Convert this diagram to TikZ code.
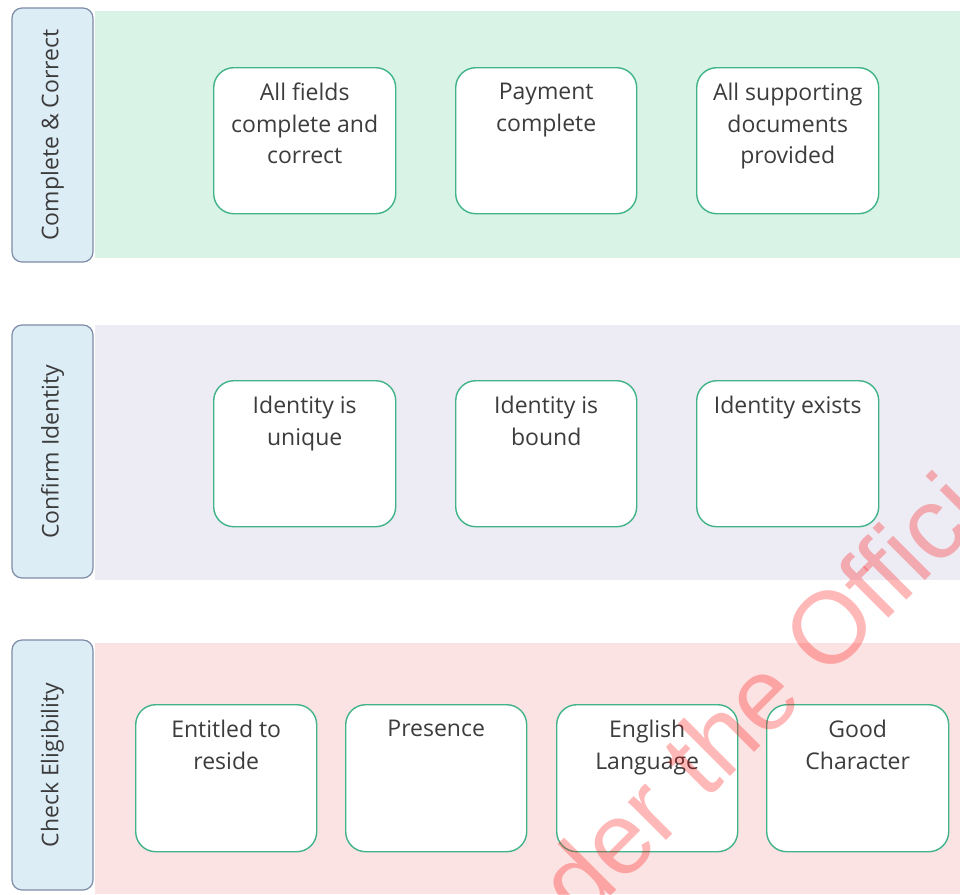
\documentclass[tikz,border=0pt]{standalone}
\usepackage{fontspec}
\setmainfont{Open Sans}
\newfontfamily\wmfont{Liberation Sans}
\definecolor{bggreen}{HTML}{D9F4E6}
\definecolor{bglav}{HTML}{EDEBF4}
\definecolor{bgpink}{HTML}{FCE3E3}
\definecolor{lblfill}{HTML}{DDEDF6}
\definecolor{lbldraw}{HTML}{7E8CA8}
\definecolor{boxdraw}{HTML}{40B389}
\definecolor{txtgray}{HTML}{3C3C3C}
\tikzset{
  lanelabel/.style={rounded corners=10pt, fill=lblfill, draw=lbldraw, line width=1.2pt,
    rotate=90, minimum height=81pt, inner sep=0pt, text=txtgray,
    font=\fontsize{23}{31.5}\selectfont},
  stepbox/.style={rounded corners=20pt, draw=boxdraw, fill=white, line width=1.4pt,
    anchor=north west, inner sep=0pt},
  steptext/.style={anchor=north, align=center, inner sep=0pt, text=txtgray,
    font=\fontsize{23}{31.5}\selectfont},
  wmark/.style={inner sep=0pt, rotate=45, text=red, text opacity=0.28,
    font=\wmfont\fontsize{102}{102}\selectfont}
}
\begin{document}
\begin{tikzpicture}[x=1pt,y=-1pt]
\useasboundingbox (0,0) rectangle (960,894);
\fill[white] (0,0) rectangle (960,894);
% lane backgrounds
\fill[bggreen] (95,11) rectangle (960,258);
\fill[bglav] (95,325) rectangle (960,580);
\fill[bgpink] (95,643) rectangle (960,894);
% lane labels
\node[lanelabel, minimum width=254pt] (lab1) at (52.5,135) {Complete \& Correct};
\node[lanelabel, minimum width=253pt] (lab2) at (52.5,451.5) {Confirm Identity};
\node[lanelabel, minimum width=250pt] (lab3) at (52.5,765) {Check Eligibility};
% lane 1
\node[stepbox, minimum width=182pt, minimum height=146pt] (a1) at (213,67) {};
\node[stepbox, minimum width=181pt, minimum height=146pt] (a2) at (455,67) {};
\node[stepbox, minimum width=182pt, minimum height=146pt] (a3) at (696,67) {};
\node[steptext] (a1t) at ([yshift=-16pt]a1.north) {All fields\\complete and\\correct};
\node[steptext] (a2t) at ([yshift=-16pt]a2.north) {Payment\\complete};
\node[steptext] (a3t) at ([yshift=-16pt]a3.north) {All supporting\\documents\\provided};
% lane 2
\node[stepbox, minimum width=182pt, minimum height=146pt] (b1) at (213,380) {};
\node[stepbox, minimum width=181pt, minimum height=146pt] (b2) at (455,380) {};
\node[stepbox, minimum width=182pt, minimum height=146pt] (b3) at (696,380) {};
\node[steptext] (b1t) at ([yshift=-16pt]b1.north) {Identity is\\unique};
\node[steptext] (b2t) at ([yshift=-16pt]b2.north) {Identity is\\bound};
\node[steptext] (b3t) at ([yshift=-16pt]b3.north) {Identity exists};
% lane 3
\node[stepbox, minimum width=181pt, minimum height=147pt] (c1) at (135,704) {};
\node[stepbox, minimum width=181pt, minimum height=147pt] (c2) at (345,704) {};
\node[stepbox, minimum width=181pt, minimum height=147pt] (c3) at (556,704) {};
\node[stepbox, minimum width=182pt, minimum height=147pt] (c4) at (766,704) {};
\node[steptext] (c1t) at ([yshift=-16pt]c1.north) {Entitled to\\reside};
\node[steptext] (c2t) at ([yshift=-16pt]c2.north) {Presence};
\node[steptext] (c3t) at ([yshift=-16pt]c3.north) {English\\Language};
\node[steptext] (c4t) at ([yshift=-16pt]c4.north) {Good\\Character};
% watermark
\begin{scope}
\clip (0,0) rectangle (960,894);
\coordinate (wmp) at (825.9,681.0);
\node[wmark, anchor=base east] (wm1) at (wmp) {Released under the\ \null};
\node[wmark, anchor=base west] (wm2) at (wmp) {Official Information Act};
\end{scope}
\end{tikzpicture}
\end{document}
